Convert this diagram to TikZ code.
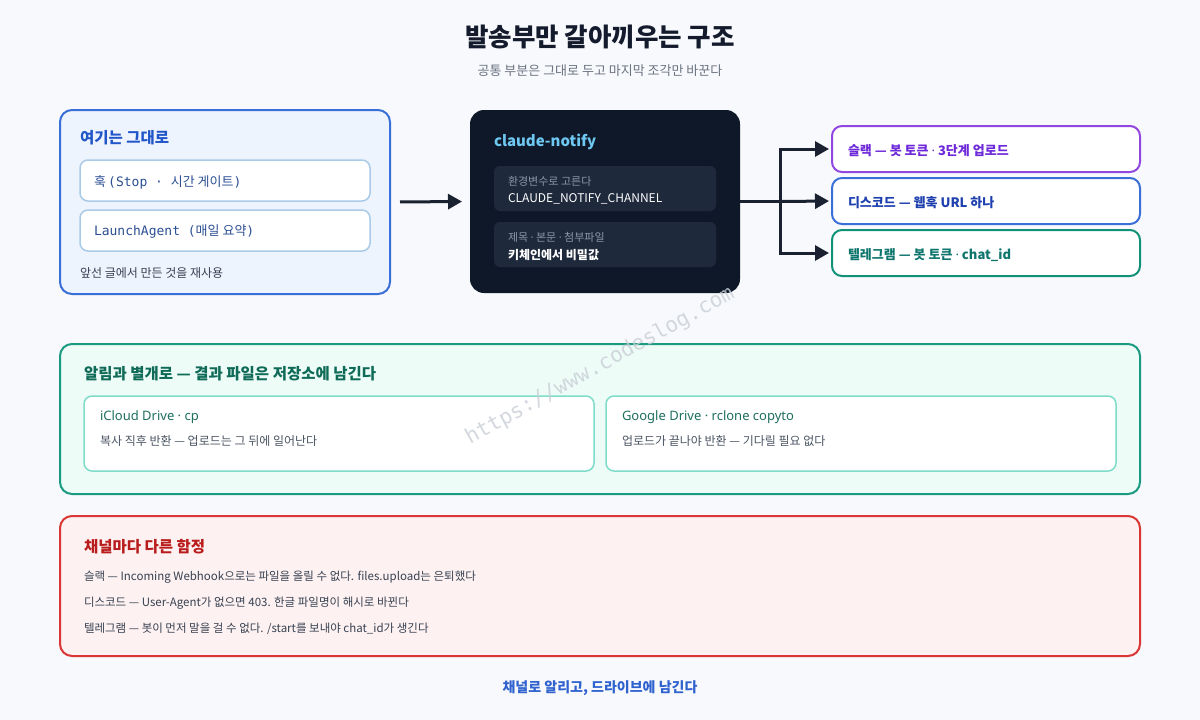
\documentclass[tikz,border=0pt]{standalone}
\usepackage{fontspec}
\setmainfont{Noto Sans CJK KR}
\newfontfamily\cjk{Noto Sans CJK KR}
\newfontfamily\monofont{DejaVu Sans Mono}
\newfontfamily\latinfont{Noto Sans}
\newcommand{\mdot}{{\latinfont ·}}
\usetikzlibrary{arrows.meta}
\definecolor{bgc}{HTML}{F7F9FC}
\definecolor{titlec}{HTML}{141B2D}
\definecolor{subc}{HTML}{6B7280}
\definecolor{leftborder}{HTML}{3A6FD8}
\definecolor{leftfill}{HTML}{EEF4FE}
\definecolor{lefthead}{HTML}{2156C9}
\definecolor{innerborder}{HTML}{A9CBE8}
\definecolor{monoc}{HTML}{2C4F94}
\definecolor{darkc}{HTML}{0F1828}
\definecolor{darkinner}{HTML}{1E293B}
\definecolor{cyanc}{HTML}{6EC8F2}
\definecolor{dimc}{HTML}{8B97A8}
\definecolor{connc}{HTML}{1A2232}
\definecolor{purplec}{HTML}{9146E0}
\definecolor{purpletext}{HTML}{6D28D9}
\definecolor{bluetext}{HTML}{1E40AF}
\definecolor{tealc}{HTML}{119178}
\definecolor{tealtext}{HTML}{0F766E}
\definecolor{greenborder}{HTML}{1A9A80}
\definecolor{greenfill}{HTML}{EDFCF7}
\definecolor{greeninner}{HTML}{7FDCCA}
\definecolor{greenhead}{HTML}{0F6B58}
\definecolor{greentitle}{HTML}{1F6F5F}
\definecolor{descc}{HTML}{4B5563}
\definecolor{redborder}{HTML}{D93636}
\definecolor{redfill}{HTML}{FDF1F1}
\definecolor{redhead}{HTML}{B91C1C}
\definecolor{linec}{HTML}{374151}
\definecolor{footc}{HTML}{2F62CF}
\definecolor{wmc}{HTML}{C9CED6}
\newcommand{\fs}[1]{\fontsize{#1}{#1}\selectfont}
\begin{document}
\begin{tikzpicture}[x=1pt,y=-1pt,
  box/.style={rectangle, outer sep=0pt, inner sep=0pt},
  txt/.style={anchor=west, inner sep=0pt, outer sep=0pt},
  conn/.style={draw=connc, line width=3pt, -{Triangle[length=14pt,width=15pt]}},
  connline/.style={draw=connc, line width=3pt},
  chanbox/.style={box, fill=white, line width=2pt, rounded corners=10pt, minimum width=308pt, minimum height=46pt},
  lightbox/.style={box, fill=white, draw=innerborder, line width=1.5pt, rounded corners=8pt, minimum width=290pt, minimum height=41pt},
  darkbox/.style={box, fill=darkinner, rounded corners=6pt, minimum width=222pt, minimum height=45pt},
  greenbox/.style={box, fill=white, draw=greeninner, line width=1.5pt, rounded corners=8pt, minimum width=510pt, minimum height=75pt}
]
\useasboundingbox (0,0) rectangle (1200,720);
\fill[bgc] (0,0) rectangle (1200,720);

% title
\node[font=\bfseries\fs{25.5}, text=titlec] (title) at (600,37) {발송부만 갈아끼우는 구조};
\node[font=\fs{13}, text=subc] (subtitle) at (600,71) {공통 부분은 그대로 두고 마지막 조각만 바꾼다};

% left panel
\node[box, draw=leftborder, fill=leftfill, line width=2pt, rounded corners=12pt, minimum width=330pt, minimum height=184pt] (leftbox) at (225,202) {};
\node[txt, font=\bfseries\fs{15.5}, text=lefthead] (lefthd) at (80,138) {여기는 그대로};
\node[lightbox] (hook) at (225,180.5) {};
\node[lightbox] (agent) at (225,230.5) {};
\node[txt, text=monoc] (hooktxt) at (94,182) {{\cjk\fs{13}훅} {\monofont\fs{13}(Stop · }{\cjk\fs{13}시간 게이트}{\monofont\fs{13})}};
\node[txt, text=monoc] (agenttxt) at (94,232) {{\monofont\fs{13}LaunchAgent (}{\cjk\fs{13}매일 요약}{\monofont\fs{13})}};
\node[txt, font=\fs{12}, text=linec] (reuse) at (80,273) {앞선 글에서 만든 것을 재사용};

% core dark box
\node[box, fill=darkc, rounded corners=14pt, minimum width=270pt, minimum height=183pt] (core) at (605,201.5) {};
\node[txt, font=\bfseries\fs{15}, text=cyanc] (coretitle) at (494,142) {claude-notify};
\node[darkbox] (env) at (605,188.5) {};
\node[darkbox] (sec) at (605,244.5) {};
\node[txt, font=\fs{11}, text=dimc] at (508,181) {환경변수로 고른다};
\node[txt, font=\fs{12}, text=white] at (508,199) {CLAUDE\_NOTIFY\_CHANNEL};
\node[txt, font=\fs{11}, text=dimc] at (508,237) {제목 \mdot{} 본문 \mdot{} 첨부파일};
\node[txt, font=\bfseries\fs{12}, text=white] at (508,255) {키체인에서 비밀값};

% channel boxes
\node[chanbox, draw=purplec] (slack) at (986,149) {};
\node[chanbox, draw=leftborder] (discord) at (986,201) {};
\node[chanbox, draw=tealc] (tele) at (986,253) {};
\node[txt, font=\bfseries\fs{13}, text=purpletext] at (848,151) {슬랙 — 봇 토큰 \mdot{} 3단계 업로드};
\node[txt, font=\bfseries\fs{13}, text=bluetext] at (848,203) {디스코드 — 웹훅 URL 하나};
\node[txt, font=\bfseries\fs{13}, text=tealtext] at (848,255) {텔레그램 — 봇 토큰 \mdot{} chat\_id};

% connectors
\draw[conn, shorten <=10pt, shorten >=8pt] (leftbox.east) -- (core.west);
\coordinate (split) at (780,201.5);
\draw[connline] (core.east) -- (split);
\draw[conn, shorten >=3pt] (split) |- (slack.west);
\draw[conn, shorten >=3pt] (split) -- (discord.west);
\draw[conn, shorten >=3pt] (split) |- (tele.west);

% green section
\node[box, draw=greenborder, fill=greenfill, line width=2pt, rounded corners=12pt, minimum width=1080pt, minimum height=150pt] (store) at (600,419) {};
\node[txt, font=\bfseries\fs{15.5}, text=greenhead] at (84,374) {알림과 별개로 — 결과 파일은 저장소에 남긴다};
\node[greenbox] (icloud) at (339,433.5) {};
\node[greenbox] (gdrive) at (861,433.5) {};
\node[txt, font=\fs{13}, text=greentitle] at (100,417) {{\latinfont\bfseries iCloud Drive · cp}};
\node[txt, font=\fs{12}, text=descc] at (100,441) {복사 직후 반환 — 업로드는 그 뒤에 일어난다};
\node[txt, font=\fs{13}, text=greentitle] at (622,417) {{\latinfont\bfseries Google Drive · rclone copyto}};
\node[txt, font=\fs{12}, text=descc] at (622,441) {업로드가 끝나야 반환 — 기다릴 필요 없다};

% red section
\node[box, draw=redborder, fill=redfill, line width=2pt, rounded corners=12pt, minimum width=1080pt, minimum height=140pt] (traps) at (600,586) {};
\node[txt, font=\bfseries\fs{15.5}, text=redhead] at (84,547) {채널마다 다른 함정};
\node[txt, font=\fs{11.5}, text=linec] at (84,577) {슬랙 — Incoming Webhook으로는 파일을 올릴 수 없다. files.upload는 은퇴했다};
\node[txt, font=\fs{11.5}, text=linec] at (84,603) {디스코드 — User-Agent가 없으면 403. 한글 파일명이 해시로 바뀐다};
\node[txt, font=\fs{11.5}, text=linec] at (84,629) {텔레그램 — 봇이 먼저 말을 걸 수 없다. /start를 보내야 chat\_id가 생긴다};

% footer
\node[font=\bfseries\fs{14}, text=footc] (footer) at (600,688) {채널로 알리고, 드라이브에 남긴다};

% watermark
\node[rotate=29, text=wmc, text opacity=0.8, font=\monofont\fs{21}] (wm) at (600,366) {https://www.codeslog.com};
\end{tikzpicture}
\end{document}
